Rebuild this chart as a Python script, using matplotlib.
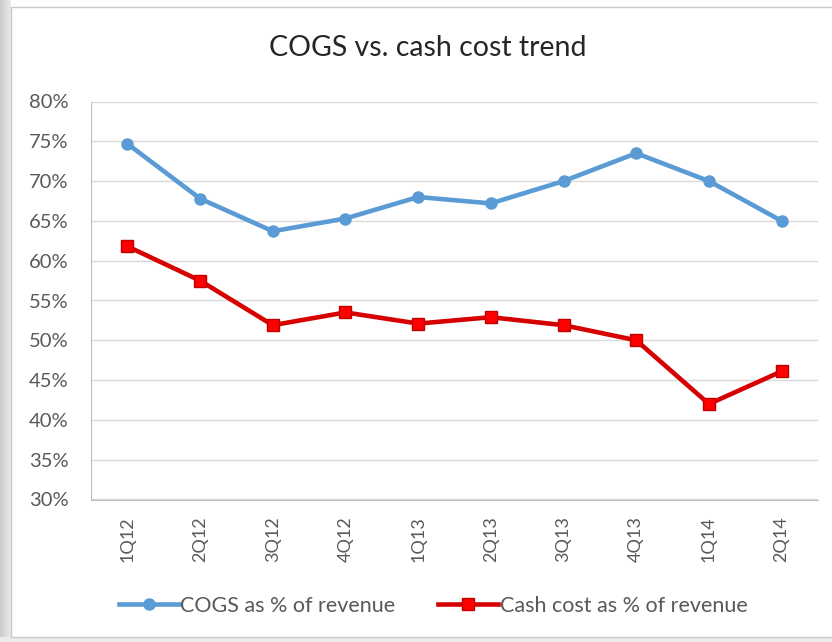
import matplotlib
matplotlib.use("Agg")
import matplotlib.pyplot as plt
from matplotlib.patches import Rectangle
from matplotlib.ticker import FuncFormatter, MultipleLocator
import numpy as np

quarters = ["1Q12", "2Q12", "3Q12", "4Q12", "1Q13", "2Q13", "3Q13", "4Q13", "1Q14", "2Q14"]
cogs_pct = [74.7, 67.8, 63.7, 65.3, 68.0, 67.2, 70.0, 73.5, 70.0, 65.0]
cash_cost_pct = [61.8, 57.5, 51.9, 53.5, 52.1, 52.9, 51.9, 50.0, 42.0, 46.1]

title = "COGS vs. cash cost trend"
cogs_label = "COGS as % of revenue"
cash_label = "Cash cost as % of revenue"

plt.rcParams["font.family"] = ["Lato", "DejaVu Sans"]

W, H = 832, 642
fig = plt.figure(figsize=(W / 100, H / 100), dpi=100)
fig.patch.set_facecolor("white")

# frame: grey gradient strip on the left, light border round the chart
grad = np.linspace(0.80, 0.92, 64).reshape(1, -1)
bg = fig.add_axes([0, 0, 1, 1], zorder=-5)
bg.set_xlim(0, W)
bg.set_ylim(H, 0)
bg.axis("off")
bg.imshow(np.dstack([grad, grad, grad]), extent=(0, 11, H, 0), aspect="auto")
bg.add_patch(Rectangle((0, 637), W, 5, facecolor="#ececec", edgecolor="none"))
bg.add_patch(Rectangle((11, 7), W + 20, 630, facecolor="white", edgecolor="#c8c8c8", lw=1))

left, right = 91, 818
top, bottom = 101.5, 499.5
ax = fig.add_axes([left / W, 1 - bottom / H, (right - left) / W, (bottom - top) / H])
ax.set_facecolor("none")

x = np.arange(len(quarters))
ax.plot(x, cogs_pct, color="#5B9BD5", lw=3.3, marker="o", ms=8,
        mfc="#5B9BD5", mec="#5B9BD5", label=cogs_label, zorder=3)
ax.plot(x, cash_cost_pct, color="#D60000", lw=3.3, marker="s", ms=8.5,
        mfc="#FF0000", mec="#C00000", label=cash_label, zorder=3)

ax.set_xlim(-0.5, len(quarters) - 0.5)
ax.set_ylim(30, 80)
ax.yaxis.set_major_locator(MultipleLocator(5))
ax.yaxis.set_major_formatter(FuncFormatter(lambda v, _: f"{v:.0f}%"))
ax.grid(axis="y", color="#d9d9d9", lw=1)
ax.set_axisbelow(True)

ax.set_xticks(x)
ax.set_xticklabels(quarters, rotation=90)
ax.tick_params(axis="x", length=0, pad=12, labelsize=13, labelcolor="#595959")
ax.tick_params(axis="y", length=0, pad=16, labelsize=14.5, labelcolor="#595959")

for s in ["top", "right"]:
    ax.spines[s].set_visible(False)
ax.spines["left"].set_color("#bfbfbf")
ax.spines["bottom"].set_color("#bfbfbf")

fig.text(428 / W, 1 - 48 / H, title, ha="center", va="center",
         fontsize=20.5, color="#262626")

leg = fig.legend(loc="center", bbox_to_anchor=(433 / W, 1 - 606 / H), ncol=2,
                 frameon=False, fontsize=15.5, handlelength=2.8,
                 handletextpad=0.05, columnspacing=2.0)
for t in leg.get_texts():
    t.set_color("#595959")

fig.savefig("out.png", dpi=100)
